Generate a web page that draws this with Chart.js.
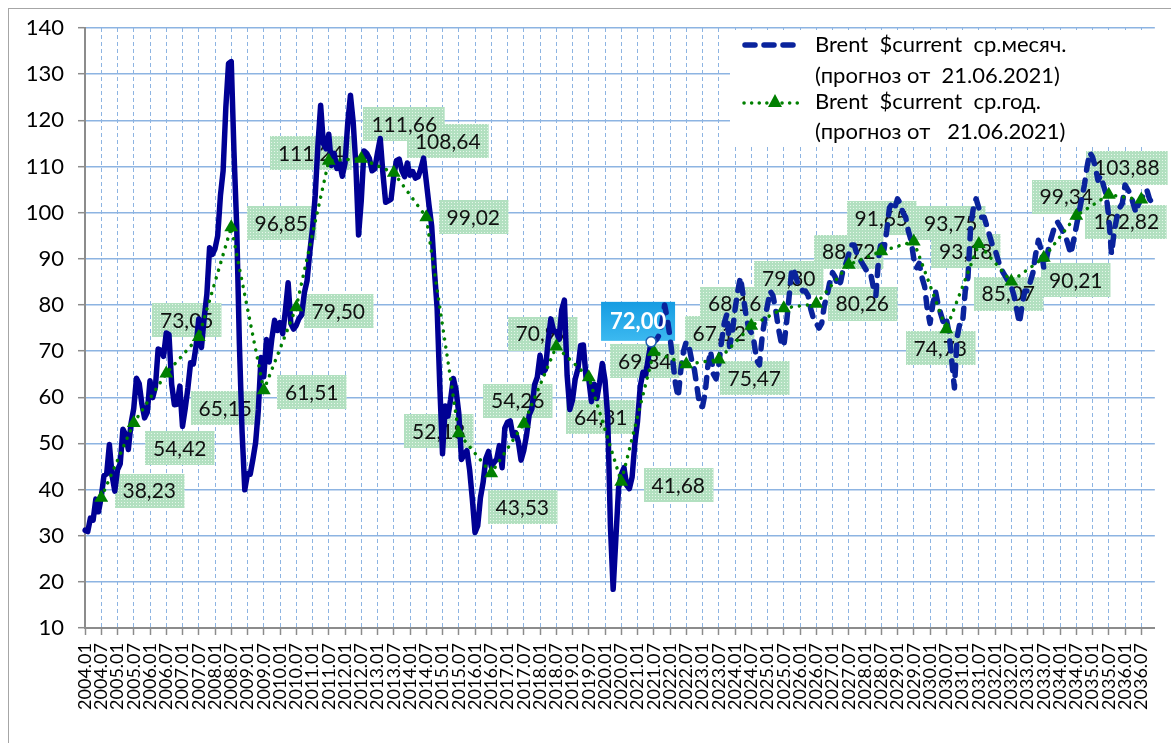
<!DOCTYPE html>
<html>
<head>
<meta charset="utf-8">
<script src="https://cdn.jsdelivr.net/npm/chart.js@4/dist/chart.umd.min.js"></script>
<style>
  html, body { margin: 0; padding: 0; background: #fff; overflow: hidden; }
  #wrap { position: relative; width: 1171px; height: 743px; }
  #frame { position: absolute; left: 8px; top: 8px; width: 1200px; height: 800px; border: 1px solid #a6a6a6; pointer-events: none; }
  canvas { position: absolute; left: 0; top: 0; }
</style>
</head>
<body>
<div id="wrap">
  <canvas id="brentChart" width="1171" height="743"></canvas>
  <div id="frame"></div>
</div>
<script>
const FONT = "Lato, 'Open Sans', sans-serif";
const BLUE_FACT = "#000094";
const BLUE_FORECAST = "#0a239c";
const GREEN = "#008000";

// месяцы 2004.01 ... 2036.12
const firstYear = 2004;
const lastYear = 2036;
const months = [];
for (let y = firstYear; y <= lastYear; y++) {
    for (let m = 1; m <= 12; m++) months.push(y + "." + String(m).padStart(2, "0"));
}

// факт, ср.месяч. 2004.01 - 2021.06
const brentFact = [
    31.18, 30.87, 33.80, 33.36, 37.92, 35.19, 38.37, 43.03, 43.38, 49.77, 43.05, 39.66,
    44.28, 45.56, 53.08, 51.86, 48.67, 54.31, 57.58, 64.09, 62.98, 58.52, 55.53, 56.75,
    63.57, 59.92, 62.25, 70.44, 70.19, 68.86, 73.90, 73.61, 62.77, 58.38, 58.46, 62.41,
    53.68, 57.56, 62.05, 67.49, 67.21, 71.05, 76.93, 70.76, 77.17, 82.34, 92.41, 90.93,
    92.18, 94.99, 103.64, 109.07, 122.80, 132.32, 132.72, 113.24, 97.23, 71.58, 52.45, 39.95,
    43.44, 43.32, 46.54, 50.18, 57.30, 68.61, 64.44, 72.51, 67.65, 72.77, 76.66, 74.46,
    76.17, 73.75, 78.83, 84.82, 75.95, 74.76, 75.58, 77.04, 77.84, 82.67, 85.28, 91.45,
    96.52, 103.72, 114.64, 123.26, 114.99, 113.83, 116.97, 110.22, 112.83, 109.55, 110.77, 107.87,
    110.69, 119.33, 125.45, 119.75, 110.34, 95.16, 102.62, 113.36, 112.86, 111.71, 109.06, 109.49,
    112.96, 116.05, 108.47, 102.25, 102.56, 102.92, 107.93, 111.28, 111.60, 109.08, 107.79, 110.76,
    108.12, 108.90, 107.48, 107.76, 109.54, 111.80, 106.77, 101.61, 97.09, 87.43, 79.44, 62.34,
    47.76, 58.10, 55.89, 59.52, 64.08, 61.48, 56.56, 46.52, 47.62, 48.43, 44.27, 38.01,
    30.70, 32.18, 38.21, 41.58, 46.74, 48.25, 44.95, 45.84, 46.57, 49.52, 44.73, 53.31,
    54.58, 54.87, 51.59, 52.31, 50.33, 46.37, 48.48, 51.70, 56.15, 57.51, 62.71, 64.37,
    69.08, 65.32, 66.02, 72.11, 76.98, 74.41, 74.25, 72.53, 78.89, 81.03, 64.75, 57.36,
    59.41, 63.96, 66.14, 71.23, 71.32, 64.22, 63.92, 59.04, 62.83, 59.71, 63.21, 67.31,
    63.65, 55.66, 32.01, 18.38, 29.38, 40.27, 43.24, 44.74, 40.91, 40.19, 42.69, 49.99,
    54.77, 62.28, 65.41, 64.81, 68.53, 72.00
];

// прогноз ср.месяч. 2021.07 - 2036.12
const brentForecast = [
    72, 72.5, 73.5, 76, 80, 77,
    73, 68, 63, 60, 66, 70, 72, 71, 68, 66, 62, 58,
    58, 61, 67, 70, 65, 64, 67, 72, 76, 78, 71, 74,
    79, 83, 86, 82, 78, 75, 74, 72, 68, 67, 73, 77,
    80, 83, 82, 79, 75, 72, 71, 76, 82, 88, 87, 85,
    84, 83, 83, 82, 79, 77, 76, 75, 76, 80, 82, 85,
    87, 86, 84, 85, 88, 89, 91, 93, 93, 91, 90, 89,
    88, 87, 87, 84, 82, 90, 94, 92, 96, 101, 102, 101,
    103, 102, 100, 99, 96, 94, 90, 88, 89, 86, 84, 79,
    76, 80, 83, 80, 78, 76, 77, 74, 68, 62, 73, 76,
    76, 83, 86, 97, 101, 103, 101, 99, 99, 97, 95, 93,
    92, 90, 88, 87, 86, 85, 84, 82, 79, 76, 80, 83,
    83, 85, 87, 91, 94, 92, 88, 90, 93, 95, 97, 98,
    97, 96, 95, 93, 91, 94, 97, 100, 103, 106, 110, 113,
    112, 110, 107, 108, 106, 104, 99, 91, 96, 99, 101, 102,
    106, 105, 104, 102, 100, 102, 103, 104, 105, 103, 102, 101
];

// ср.год.
const years = [];
for (let y = firstYear; y <= lastYear; y++) years.push(y);
const brentYear = [
    38.23, 54.42, 65.15, 73.05, 96.85, 61.51, 79.50, 111.24, 111.66, 108.64, 99.02,
    52.18, 43.53, 54.26, 70.97, 64.31, 41.68, 69.84, 67.12, 68.16, 75.47, 79.30,
    80.26, 88.72, 91.65, 93.75, 74.73, 93.18, 85.07, 90.21, 99.34, 103.88, 102.82
];

// сдвиг подписей ср.год. от точки (px)
const yearLabelShift = [
    [48, -7], [46, 25], [59, 35], [-12, -17], [50, -4], [48, 2], [42, 4], [-18, -8],
    [43, -35], [54, -32], [47, 0], [-20, -2], [31, 34], [-6, -23], [-14, -13], [12, 40],
    [57, 3], [-9, 9], [33, -31], [16, -56], [3, 52], [5, -30], [46, 0], [0, -13],
    [0, -33], [37, -18], [-6, 19], [-13, 7], [-3, 12], [32, 22], [-10, -19], [18, -27],
    [-15, 22]
];

const lastFactIndex = brentFact.length - 1;

const factSeries = months.map((_, i) => i <= lastFactIndex ? brentFact[i] : null);
const forecastSeries = months.map((_, i) => {
    if (i < lastFactIndex) return null;
    if (i === lastFactIndex) return brentFact[i];
    return brentForecast[i - lastFactIndex - 1];
});
const yearSeries = months.map(() => null);
years.forEach((y, k) => { yearSeries[(y - firstYear) * 12 + 6] = brentYear[k]; });
const markSeries = months.map((_, i) => i === lastFactIndex ? brentFact[i] : null);

function fmt(v) {
    return v.toFixed(2).replace(".", ",");
}

function makeGreenPattern(ctx) {
    const c = document.createElement("canvas");
    c.width = 3; c.height = 3;
    const g = c.getContext("2d");
    g.fillStyle = "#b2e0c0";
    g.fillRect(0, 0, 3, 3);
    g.fillStyle = "#e6f6ea";
    g.fillRect(1, 1, 1, 1);
    return ctx.createPattern(c, "repeat");
}

function lastBox(chart) {
    const mp = chart.getDatasetMeta(3).data[lastFactIndex];
    return { x: mp.x - 50, y: mp.y - 40, w: 74, h: 39 };
}

const labelPlugin = {
    id: "yearLabels",
    beforeDatasetsDraw(chart) {
        const ctx = chart.ctx;
        const meta = chart.getDatasetMeta(2);
        const pattern = makeGreenPattern(ctx);
        ctx.save();
        ctx.font = "21px " + FONT;
        ctx.textAlign = "center";
        ctx.textBaseline = "middle";
        const items = years.map((y, k) => {
            const pt = meta.data[(y - firstYear) * 12 + 6];
            const [dx, dy] = yearLabelShift[k];
            const text = fmt(brentYear[k]);
            return { cx: pt.x + dx, cy: pt.y + dy, text, w: ctx.measureText(text).width + 16 };
        });
        // сначала все плашки, потом текст
        ctx.fillStyle = pattern;
        items.forEach(it => ctx.fillRect(Math.round(it.cx - it.w / 2), Math.round(it.cy - 17), it.w, 34));
        ctx.fillStyle = "#111";
        items.forEach(it => ctx.fillText(it.text, it.cx, it.cy + 1));

        // плашка последнего фактического значения
        const b = lastBox(chart);
        const grad = ctx.createLinearGradient(0, b.y, 0, b.y + b.h);
        grad.addColorStop(0, "#159ce2");
        grad.addColorStop(1, "#3cb9f0");
        ctx.fillStyle = grad;
        ctx.fillRect(b.x, b.y, b.w, b.h);
        ctx.restore();
    },
    afterDatasetsDraw(chart) {
        const ctx = chart.ctx;
        const b = lastBox(chart);
        ctx.save();
        ctx.font = "bold 22px " + FONT;
        ctx.textAlign = "center";
        ctx.textBaseline = "middle";
        ctx.fillStyle = "#fff";
        ctx.fillText(fmt(brentFact[lastFactIndex]), b.x + b.w / 2, b.y + b.h / 2 + 1);
        ctx.restore();
    }
};

const legendPlugin = {
    id: "boxLegend",
    afterDraw(chart) {
        const ctx = chart.ctx;
        ctx.save();
        ctx.fillStyle = "#fff";
        ctx.fillRect(730, 30, 441, 117);

        ctx.strokeStyle = BLUE_FORECAST;
        ctx.lineWidth = 5.5;
        ctx.lineCap = "round";
        ctx.setLineDash([10, 9]);
        ctx.beginPath();
        ctx.moveTo(745, 45);
        ctx.lineTo(800, 45);
        ctx.stroke();

        ctx.strokeStyle = GREEN;
        ctx.lineWidth = 3.5;
        ctx.setLineDash([0.1, 7.5]);
        ctx.beginPath();
        ctx.moveTo(744, 103);
        ctx.lineTo(800, 103);
        ctx.stroke();
        ctx.setLineDash([]);
        ctx.fillStyle = GREEN;
        ctx.beginPath();
        ctx.moveTo(775, 94);
        ctx.lineTo(782, 107);
        ctx.lineTo(768, 107);
        ctx.closePath();
        ctx.fill();

        ctx.fillStyle = "#000";
        ctx.font = "22px " + FONT;
        ctx.textAlign = "left";
        ctx.textBaseline = "middle";
        ctx.fillText("Brent  $current  ср.месяч.", 815, 45);
        ctx.fillText("(прогноз от  21.06.2021)", 815, 76);
        ctx.fillText("Brent  $current  ср.год.", 815, 102);
        ctx.fillText("(прогноз от   21.06.2021)", 815, 132);
        ctx.restore();
    }
};

const ctx = document.getElementById("brentChart").getContext("2d");

new Chart(ctx, {
    type: "line",
    data: {
        labels: months,
        datasets: [
            {
                label: "Brent $current ср.месяч. (факт)",
                data: factSeries,
                borderColor: BLUE_FACT,
                borderWidth: 5.5,
                borderJoinStyle: "round",
                borderCapStyle: "round",
                pointRadius: 0,
                tension: 0,
                order: 3
            },
            {
                label: "Brent  $current  ср.месяч. (прогноз от  21.06.2021)",
                data: forecastSeries,
                borderColor: BLUE_FORECAST,
                borderWidth: 5.5,
                borderDash: [10, 10],
                borderCapStyle: "round",
                borderJoinStyle: "round",
                pointRadius: 0,
                tension: 0,
                order: 2
            },
            {
                label: "Brent  $current  ср.год. (прогноз от   21.06.2021)",
                data: yearSeries,
                spanGaps: true,
                borderColor: GREEN,
                borderWidth: 3.5,
                borderDash: [0.1, 8],
                borderCapStyle: "round",
                pointStyle: "triangle",
                pointRadius: 8,
                pointBackgroundColor: GREEN,
                pointBorderColor: GREEN,
                pointBorderWidth: 0,
                order: 1
            },
            {
                label: "last",
                data: markSeries,
                showLine: false,
                pointStyle: "circle",
                pointRadius: 5,
                pointBackgroundColor: "#fff",
                pointBorderColor: "#1f5fb0",
                pointBorderWidth: 1.5,
                order: 0
            }
        ]
    },
    options: {
        responsive: false,
        devicePixelRatio: 1,
        animation: false,
        layout: { padding: { top: 28, right: 1, left: 0, bottom: 0 } },
        plugins: {
            legend: { display: false },
            tooltip: { enabled: false }
        },
        scales: {
            x: {
                type: "category",
                offset: false,
                afterFit(scale) { scale.height = 115; },
                grid: {
                    color: "#8db4e2",
                    lineWidth: 1,
                    tickColor: "#8c8c8c",
                    tickLength: 7,
                    tickWidth: 1.5
                },
                border: { color: "#8c8c8c", width: 2, dash: [4, 3] },
                ticks: {
                    autoSkip: false,
                    minRotation: 90,
                    maxRotation: 90,
                    padding: 8,
                    color: "#000",
                    font: { family: FONT, size: 18 },
                    callback(value, index) {
                        return index % 6 === 0 ? months[index] : null;
                    }
                }
            },
            y: {
                min: 10,
                max: 140,
                afterFit(scale) { scale.width = 85; },
                grid: {
                    color: "#8db4e2",
                    lineWidth: 1.4,
                    tickColor: "#8c8c8c",
                    tickLength: 7,
                    tickWidth: 1.5
                },
                border: { color: "#8c8c8c", width: 2 },
                ticks: {
                    stepSize: 10,
                    padding: 14,
                    color: "#000",
                    font: { family: FONT, size: 22 }
                }
            }
        }
    },
    plugins: [labelPlugin, legendPlugin]
});
</script>
</body>
</html>
